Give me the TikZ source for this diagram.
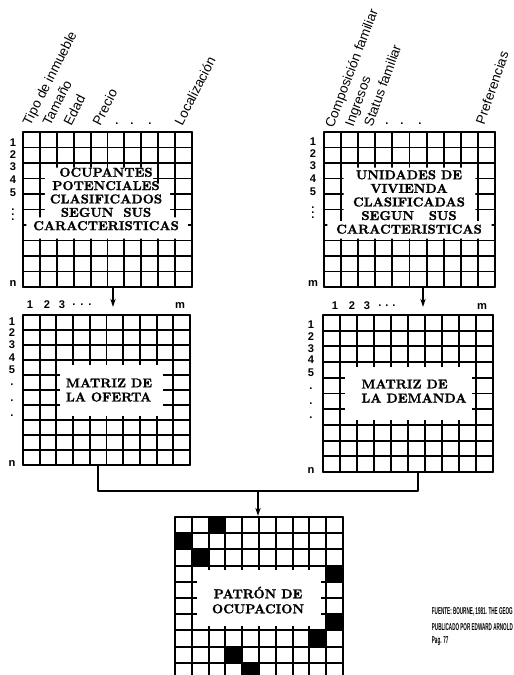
\documentclass[tikz,border=0pt]{standalone}
\usepackage{fontspec}
\setsansfont{Liberation Sans}
\newfontfamily\gruesa{lmroman10-bold.otf}[FakeBold=1.3]
\usetikzlibrary{arrows.meta}
\newcommand{\malla}{%
  \foreach \k in {0,...,10}{\draw (\k,0) -- (\k,10); \draw (0,\k) -- (10,\k);}}
\begin{document}
\begin{tikzpicture}[x=0.03cm,y=-0.03cm,line join=round,line cap=round,>={Stealth[length=7pt,width=4.5pt]},line width=1.6pt,
  bloque/.style={font=\fontsize{11}{11.4}\selectfont\gruesa,align=center,inner sep=0pt},
  etiq/.style={font=\fontsize{11.5}{12}\selectfont\sffamily,anchor=base west,inner sep=0pt},
  num/.style={font=\fontsize{9.5}{10}\selectfont\sffamily\bfseries,inner sep=0pt},
  fuente/.style={font=\fontsize{8.5}{9}\selectfont\sffamily\bfseries,anchor=west,inner sep=0pt}]
\useasboundingbox (0,0) rectangle (514,675);
\clip (0,0) rectangle (514,675);
% ocupantes potenciales
\begin{scope}[shift={(23,132)},xscale=16.9,yscale=15.5]
  \malla
  \fill[white] (1.3,2.3) -- (7.7,2.3) -- (7.7,3.3) -- (8.7,3.3) -- (8.7,5.5) -- (9.75,5.5)
    -- (9.75,6.88) -- (0.2,6.88) -- (0.2,5.5) -- (1.3,5.5) -- cycle;
\end{scope}
\node[bloque] (ocupantes) at (106,199) {OCUPANTES\\POTENCIALES\\CLASIFICADOS\\SEGUN~~SUS\\CARACTERISTICAS};
\node[etiq,rotate=63] (tipo) at (30,127) {Tipo de inmueble};
\node[etiq,rotate=63] (tamano) at (50,127) {Tamaño};
\node[etiq,rotate=63] (edad) at (71,127) {Edad};
\node[etiq,rotate=63] (precio) at (100,127) {Precio};
\node[etiq,rotate=63] (localiz) at (182,127) {Localización};
\foreach \x [count=\i] in {117,132,150} \node[num] (pA\i) at (\x,124) {.};
\foreach \t/\y [count=\i] in {1/143,2/155,3/167,4/180,5/193,$\vdots$/211,n/283}
  \node[num] (fA\i) at (13,\y) {\t};
% unidades de vivienda
\begin{scope}[shift={(324,132)},xscale=17.1,yscale=15.5]
  \malla
  \fill[white] (1.15,2.3) -- (8.85,2.3) -- (8.85,5.75) -- (9.8,5.75)
    -- (9.8,6.88) -- (0.2,6.88) -- (0.2,5.75) -- (1.15,5.75) -- cycle;
\end{scope}
\node[bloque,font=\fontsize{11}{11.6}\selectfont\gruesa] (unidades) at (409,202) {UNIDADES DE\\VIVIENDA\\CLASIFICADAS\\SEGUN~~~SUS\\CARACTERISTICAS};
\node[etiq,rotate=69] (compos) at (333,129) {Composición familiar};
\node[etiq,rotate=70] (ingresos) at (353,128) {Ingresos};
\node[etiq,rotate=70] (status) at (372,128) {Status familiar};
\node[etiq,rotate=71] (prefer) at (484,126) {Preferencias};
\foreach \x [count=\i] in {387,402,420} \node[num] (pB\i) at (\x,124) {.};
\foreach \t/\y [count=\i] in {1/142,2/154,3/166,4/179,5/192,$\vdots$/209,m/283}
  \node[num] (fB\i) at (313,\y) {\t};
% matriz de la oferta
\begin{scope}[shift={(23,315)},xscale=16.7,yscale=15]
  \malla
  \fill[white] (2.2,3.3) -- (8.4,3.3) -- (8.4,6.7) -- (2.2,6.7) -- cycle;
\end{scope}
\node[bloque,align=left,font=\fontsize{11}{12}\selectfont\gruesa] (oferta) at (109,390) {MATRIZ DE\\LA OFERTA};
\foreach \t/\x [count=\i] in {1/30,2/47,3/62,./74,./82,./90,m/180}
  \node[num] (cC\i) at (\x,305) {\t};
\foreach \t/\y [count=\i] in {1/322,2/333,3/345,4/358,5/370,./385,./401,./416,n/463}
  \node[num] (fC\i) at (12,\y) {\t};
% matriz de la demanda
\begin{scope}[shift={(323,315)},xscale=17,yscale=15.7]
  \malla
  \fill[white] (1.3,3.3) -- (8.75,3.3) -- (8.75,6.7) -- (1.3,6.7) -- cycle;
\end{scope}
\node[bloque,align=left,font=\fontsize{11}{12}\selectfont\gruesa] (demanda) at (414,391) {MATRIZ DE\\LA DEMANDA};
\foreach \t/\x [count=\i] in {1/335,2/352,3/367,./380,./387,./394,m/482}
  \node[num] (cD\i) at (\x,306) {\t};
\foreach \t/\y [count=\i] in {1/325,2/337,3/349,4/360,5/373,./389,./404,./418,n/470}
  \node[num] (fD\i) at (311,\y) {\t};
% patron de ocupacion
\begin{scope}[shift={(175,517)},xscale=16.8,yscale=16.2]
  \fill (2,0) rectangle (3,1) (0,1) rectangle (1,2) (1,2) rectangle (2,3)
    (9,3) rectangle (10,4) (9,6) rectangle (10,7) (8,7) rectangle (9,8)
    (3,8) rectangle (4,9) (4,9) rectangle (5,10);
  \malla
  \fill[white] (1.3,3.3) -- (8.7,3.3) -- (8.7,6.7) -- (1.3,6.7) -- cycle;
\end{scope}
\node[bloque,font=\fontsize{11}{12.8}\selectfont\gruesa] (patron) at (258,600) {PATRÓN DE\\OCUPACION};
% conectores
\coordinate (ocupB) at (113,288);
\coordinate (ofertaT) at (113,307);
\coordinate (unidB) at (423,288);
\coordinate (demandaT) at (423,307);
\coordinate (ofertaB) at (98,465);
\coordinate (demandaB) at (418,472);
\coordinate (union) at (258,491);
\coordinate (patronT) at (258,516);
\draw[->,line width=1.3pt] (ocupB) -- (ofertaT);
\draw[->,line width=1.3pt] (unidB) -- (demandaT);
\draw[line width=1.3pt] (ofertaB) |- (union) -| (demandaB);
\draw[->,line width=1.3pt] (union) -- (patronT);
% fuente
\node[fuente] (fte1) at (431,612) {\scalebox{0.46}[1]{FUENTE: BOURNE, 1981. THE GEOG}};
\node[fuente] (fte2) at (431,627) {\scalebox{0.46}[1]{PUBLICADO POR EDWARD ARNOLD}};
\node[fuente] (fte3) at (431,641) {\scalebox{0.46}[1]{Pag. 77}};
\end{tikzpicture}
\end{document}
